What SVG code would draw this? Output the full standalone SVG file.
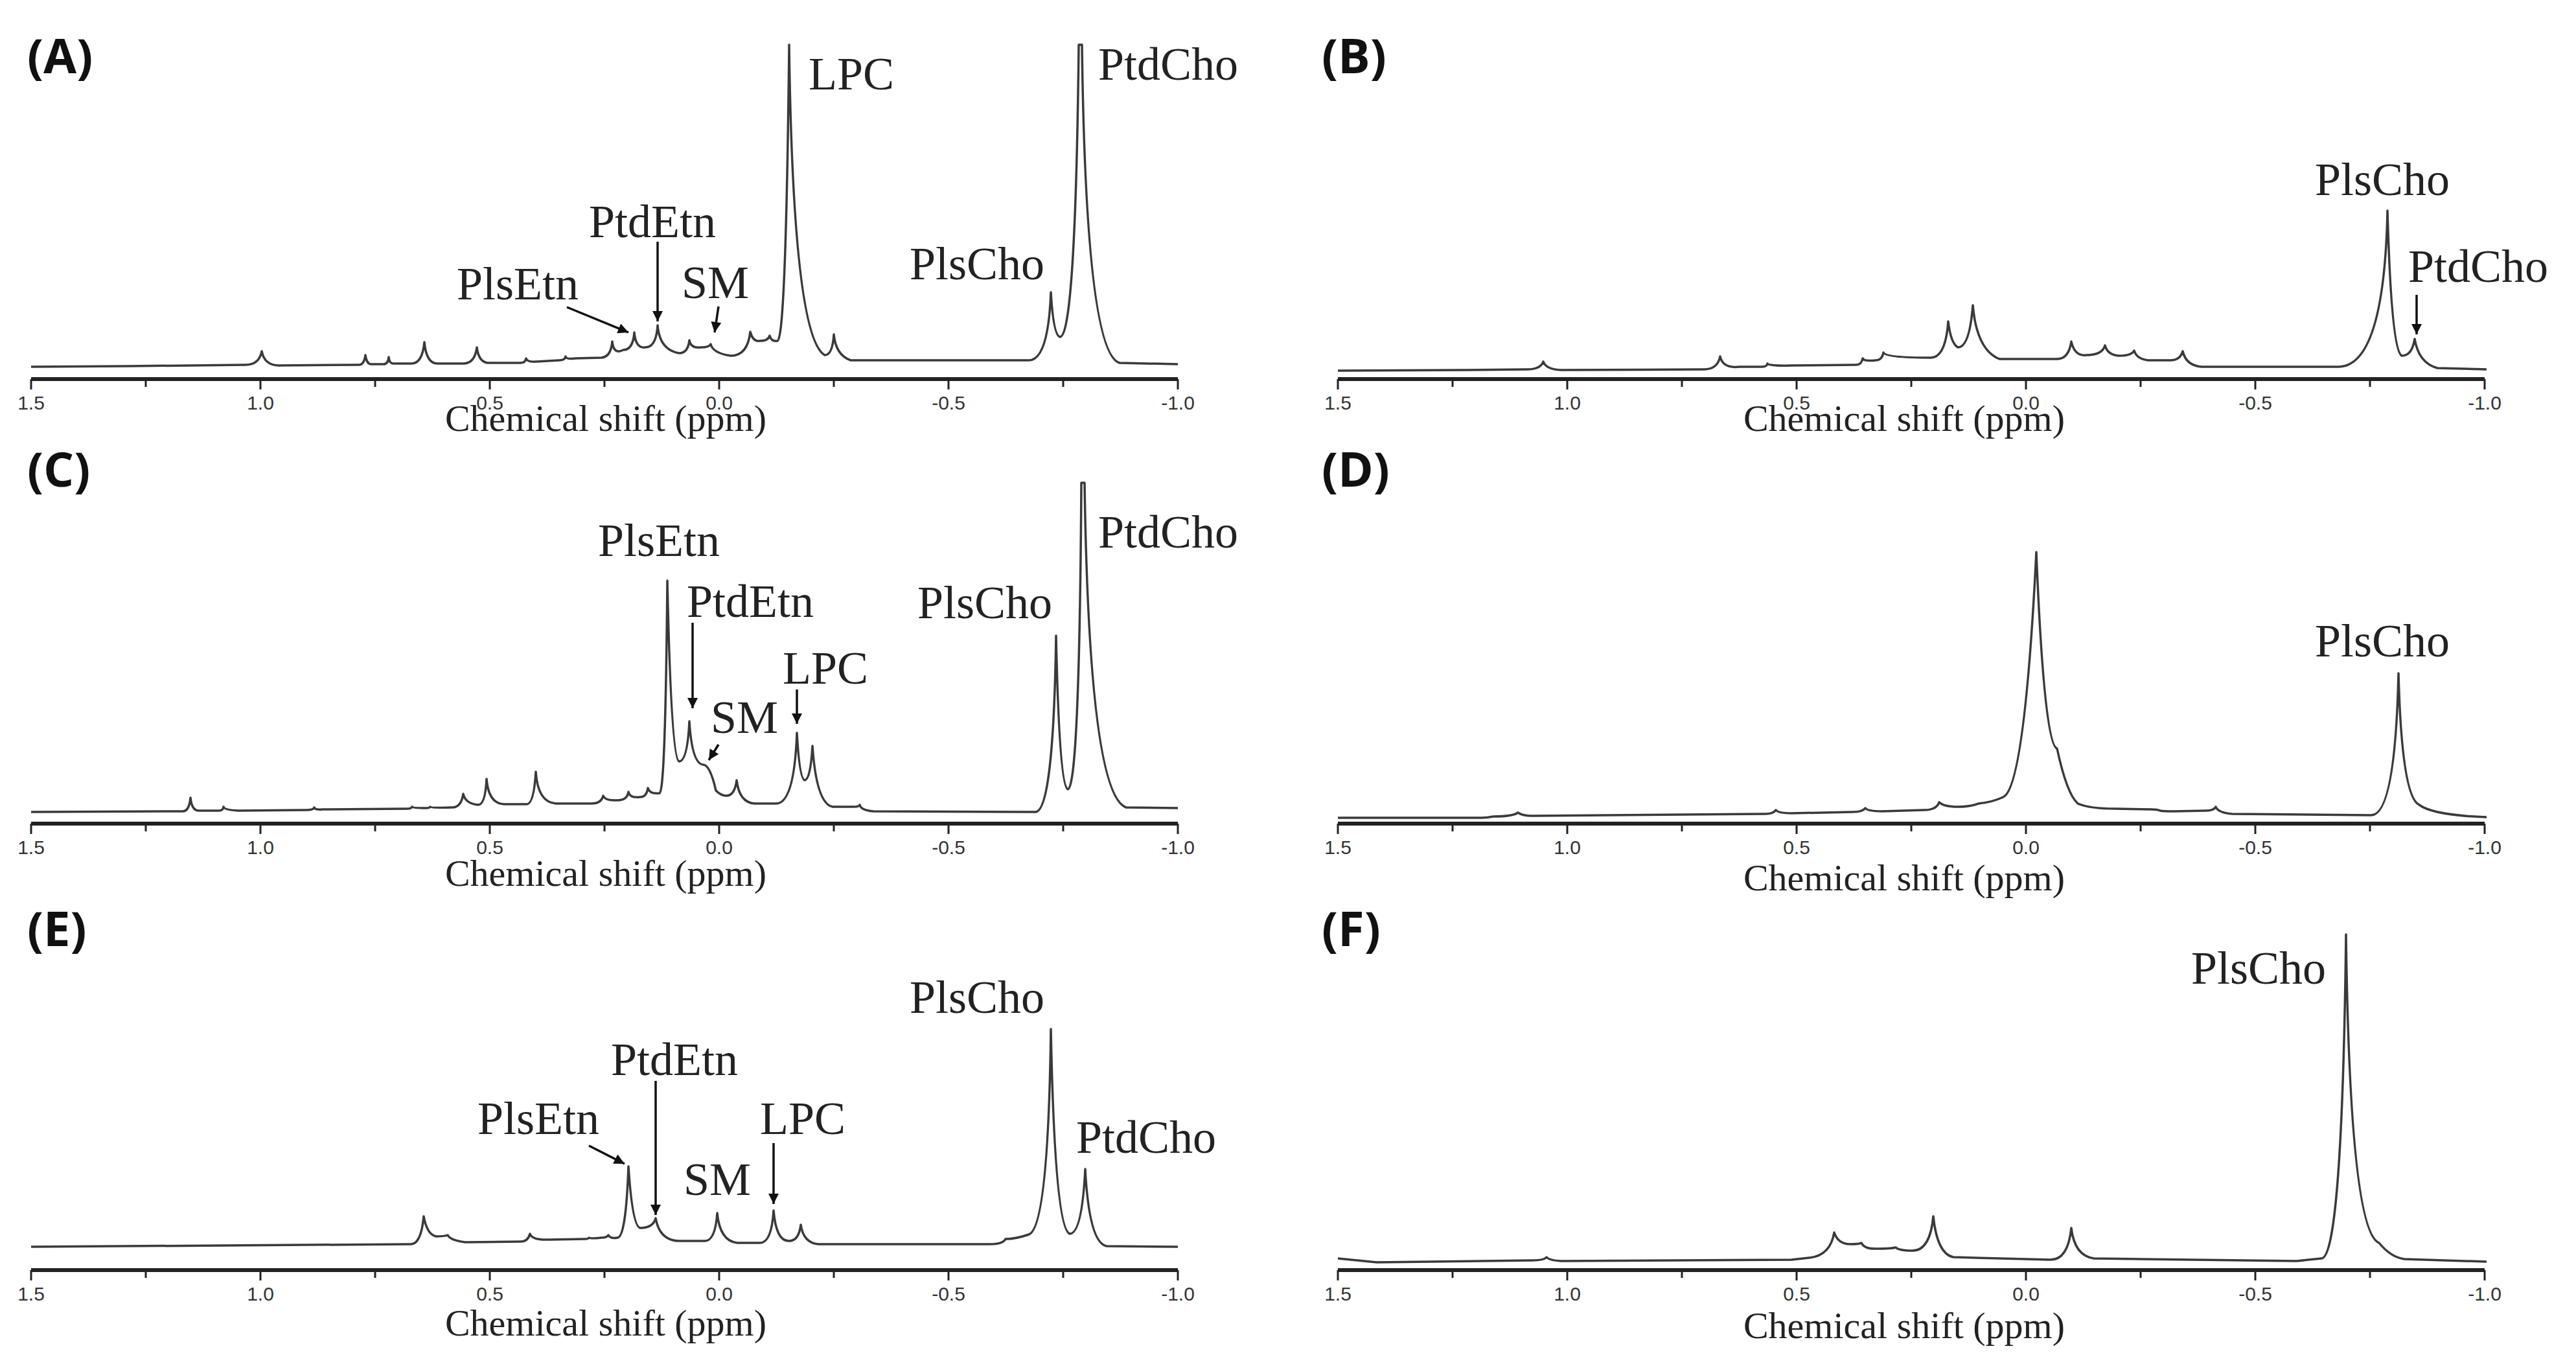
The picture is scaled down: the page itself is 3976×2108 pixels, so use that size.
<svg xmlns="http://www.w3.org/2000/svg" width="3976" height="2108" viewBox="0 0 3976 2108">
<style>
.sp{fill:none;stroke:#3a3a3a;stroke-width:3.5;stroke-linejoin:round}
.ax{stroke:#222;stroke-width:6}
.tk{stroke:#222;stroke-width:3}
.tl{font-family:"Liberation Sans",Arial,sans-serif;font-size:30px;fill:#333;text-anchor:middle}
.xl{font-family:"Liberation Serif","Times New Roman",serif;font-size:58px;fill:#222;text-anchor:middle}
.lb{font-family:"Liberation Serif","Times New Roman",serif;font-size:72px;fill:#222}
.pl{font-family:"Open Sans","DejaVu Sans",sans-serif;font-weight:bold;font-size:74px;fill:#111}
.ar{stroke:#111;stroke-width:3.5;fill:none;marker-end:url(#ah)}
</style>
<defs>
<marker id="ah" viewBox="0 0 10 10" refX="10" refY="5" markerWidth="20" markerHeight="16" markerUnits="userSpaceOnUse" orient="auto"><path d="M0,0 L10,5 L0,10 z" fill="#111"/></marker>
<g id="axis">
<line class="ax" x1="0" y1="0" x2="1770" y2="0"/>
<path class="tk" d="M0,0V16M354,0V16M708,0V16M1062,0V16M1416,0V16M1770,0V16M177,0V12M531,0V12M885,0V12M1239,0V12M1593,0V12"/>
<text class="tl" x="0" y="47">1.5</text><text class="tl" x="354" y="47">1.0</text><text class="tl" x="708" y="47">0.5</text><text class="tl" x="1062" y="47">0.0</text><text class="tl" x="1416" y="47">-0.5</text><text class="tl" x="1770" y="47">-1.0</text>
</g>
</defs>
<rect width="3976" height="2108" fill="#fff"/>

<g id="panelA" transform="translate(48,0)">
<text class="pl" x="-6" y="113">(A)</text>
<path class="sp" d="M0,566 L150,565 L331,563 Q352,563 356,542 Q360,563 381,564 L506,563 Q514,563 516,548 Q518,563 526,562 L544,562 Q551,562 552,551 Q553,562 560,561 L587,561 Q604,561 607,528 Q610,561 627,561 L667,561 Q685,561 688,536 Q691,561 708,560 L755,560 Q763,560 764,553 Q765,559 780,558 L815,556 Q824,556 825,550 Q826,555 840,553 L880,552 Q895,551 897,527 Q899,548 914,540 Q929,540 931,513 Q933,538 948,536 Q965,536 967,502 Q970,540 1000,545 Q1014,545 1016,525 Q1018,538 1034,536 Q1047,536 1049,531 Q1052,545 1080,549 Q1106,549 1110,512 Q1114,528 1125,526 Q1138,526 1140,518 Q1143,528 1152,526 Q1165,526 1170,69 Q1176,520 1225,548 Q1237,548 1239,516 Q1242,548 1265,556 L1540,556 Q1570,556 1574,451 Q1578,518 1588,520 Q1612,520 1617,69 L1622,69 Q1628,545 1680,560 L1770,562"/>
<use href="#axis" y="585"/>
<text class="xl" x="887" y="665">Chemical shift (ppm)</text>
<text class="lb" x="1200" y="138">LPC</text>
<text class="lb" x="1647" y="123">PtdCho</text>
<text class="lb" x="861" y="366">PtdEtn</text>
<text class="lb" x="657" y="462">PlsEtn</text>
<text class="lb" x="1004" y="460">SM</text>
<text class="lb" x="1356" y="431">PlsCho</text>
</g>

<g id="panelB" transform="translate(2065,0)">
<text class="pl" x="-25" y="113">(B)</text>
<path class="sp" d="M0,572 L200,571 L292,570 Q313,570 317,558 Q321,570 345,571 L565,570 Q586,570 590,550 Q594,569 620,566 L655,566 Q662,566 663,561 Q664,565 700,564 L800,563 Q808,563 810,553 Q812,558 830,556 Q840,556 842,544 Q845,552 915,552 Q938,552 942,496 Q946,530 957,536 Q975,536 980,471 Q986,540 1021,554 L1110,554 Q1128,554 1132,527 Q1137,550 1155,548 Q1180,548 1184,533 Q1188,548 1206,549 Q1225,549 1229,541 Q1233,554 1250,556 L1285,556 Q1300,556 1304,542 Q1309,564 1333,566 L1544,566 Q1615,566 1620,325 Q1626,540 1642,549 Q1658,549 1662,523 Q1668,560 1697,568 L1773,570"/>
<use href="#axis" y="585"/>
<text class="xl" x="874" y="665">Chemical shift (ppm)</text>
<text class="lb" x="1508" y="301">PlsCho</text>
<text class="lb" x="1652" y="435">PtdCho</text>
</g>

<g id="panelC" transform="translate(48,0)">
<text class="pl" x="-6" y="751">(C)</text>
<path class="sp" d="M0,1253 L234,1252 Q244,1252 246,1231 Q248,1252 260,1251 L290,1251 Q296,1251 297,1245 Q298,1250 320,1251 L425,1250 Q436,1250 437,1246 Q438,1250 450,1249 L580,1248 Q587,1248 588,1245 Q589,1247 610,1247 Q615,1247 616,1245 Q617,1247 650,1246 Q664,1246 667,1225 Q670,1240 690,1242 Q701,1242 703,1202 Q706,1240 730,1241 L765,1241 Q776,1241 779,1191 Q782,1238 810,1240 L865,1240 Q880,1240 883,1228 Q886,1236 905,1235 Q920,1235 922,1222 Q924,1232 940,1230 Q950,1230 952,1216 Q955,1226 970,1224 Q979,1224 982,896 Q988,1170 1000,1175 Q1013,1175 1016,1113 Q1020,1178 1037,1180 Q1048,1180 1057,1220 Q1065,1228 1073,1228 Q1086,1228 1089,1204 Q1093,1238 1116,1240 L1150,1240 Q1178,1240 1182,1131 Q1186,1202 1194,1204 Q1203,1204 1206,1151 Q1212,1240 1237,1245 L1270,1245 Q1278,1245 1279,1242 Q1280,1250 1300,1252 L1550,1253 Q1578,1253 1582,981 Q1587,1212 1600,1218 Q1618,1218 1621,745 L1626,745 Q1633,1225 1690,1246 L1770,1247"/>
<use href="#axis" y="1271"/>
<text class="xl" x="887" y="1367">Chemical shift (ppm)</text>
<text class="lb" x="875" y="858">PlsEtn</text>
<text class="lb" x="1012" y="952">PtdEtn</text>
<text class="lb" x="1049" y="1131">SM</text>
<text class="lb" x="1160" y="1055">LPC</text>
<text class="lb" x="1368" y="954">PlsCho</text>
<text class="lb" x="1647" y="845">PtdCho</text>
</g>

<g id="panelD" transform="translate(2065,0)">
<text class="pl" x="-25" y="751">(D)</text>
<path class="sp" d="M0,1262 L220,1262 Q230,1262 240,1260 Q270,1260 278,1254 Q285,1259 300,1259 L660,1256 Q672,1256 676,1250 Q680,1255 700,1255 L795,1253 Q810,1253 814,1247 Q818,1252 840,1252 L905,1250 Q924,1250 928,1238 Q935,1245 957,1245 Q975,1245 989,1240 Q1010,1238 1027,1230 Q1060,1215 1078,852 Q1090,1150 1110,1155 Q1125,1225 1142,1240 Q1160,1248 1200,1248 L1255,1249 Q1265,1249 1269,1251 Q1273,1252 1290,1252 L1340,1251 Q1352,1251 1355,1245 Q1358,1254 1380,1256 L1595,1258 Q1632,1258 1637,1039 Q1642,1230 1669,1242 Q1690,1258 1773,1261"/>
<use href="#axis" y="1271"/>
<text class="xl" x="874" y="1374">Chemical shift (ppm)</text>
<text class="lb" x="1508" y="1013">PlsCho</text>
</g>

<g id="panelE" transform="translate(48,0)">
<text class="pl" x="-6" y="1460">(E)</text>
<path class="sp" d="M0,1924 L300,1922 L586,1920 Q602,1920 606,1877 Q611,1905 625,1908 Q638,1908 643,1906 Q647,1914 670,1917 L755,1916 Q767,1916 770,1904 Q773,1914 800,1913 L855,1912 Q860,1912 861,1910 Q862,1912 880,1910 Q889,1910 891,1906 Q894,1912 905,1910 Q918,1910 922,1800 Q928,1892 940,1895 Q960,1895 964,1880 Q970,1914 1000,1915 L1040,1915 Q1056,1915 1059,1872 Q1063,1915 1090,1918 L1125,1918 Q1143,1918 1146,1868 Q1150,1916 1170,1915 Q1185,1915 1188,1890 Q1192,1918 1215,1920 L1480,1920 Q1500,1920 1504,1912 Q1520,1912 1540,1905 Q1570,1895 1574,1588 Q1580,1895 1603,1904 Q1622,1904 1627,1804 Q1633,1918 1660,1923 L1770,1924"/>
<use href="#axis" y="1960"/>
<text class="xl" x="887" y="2061">Chemical shift (ppm)</text>
<text class="lb" x="689" y="1750">PlsEtn</text>
<text class="lb" x="895" y="1659">PtdEtn</text>
<text class="lb" x="1007" y="1844">SM</text>
<text class="lb" x="1125" y="1750">LPC</text>
<text class="lb" x="1356" y="1563">PlsCho</text>
<text class="lb" x="1613" y="1779">PtdCho</text>
</g>

<g id="panelF" transform="translate(2065,0)">
<text class="pl" x="-25" y="1460">(F)</text>
<path class="sp" d="M0,1942 L60,1948 L300,1945 Q318,1945 322,1940 Q326,1945 345,1946 L700,1944 L727,1941 Q760,1938 766,1902 Q772,1920 791,1920 Q805,1920 808,1918 Q812,1927 829,1927 Q855,1927 861,1925 Q866,1930 887,1930 Q914,1930 919,1877 Q925,1935 950,1940 L1100,1944 Q1127,1944 1132,1895 Q1137,1938 1167,1942 L1480,1946 L1518,1942 Q1550,1942 1556,1442 Q1562,1900 1607,1918 Q1625,1940 1646,1943 L1773,1947"/>
<use href="#axis" y="1960"/>
<text class="xl" x="874" y="2065">Chemical shift (ppm)</text>
<text class="lb" x="1317" y="1518">PlsCho</text>
</g>

<g id="connectors">
<line class="ar" x1="875" y1="474" x2="970" y2="513"/>
<line class="ar" x1="1015" y1="373" x2="1015" y2="496"/>
<line class="ar" x1="1109" y1="473" x2="1103" y2="513"/>
<line class="ar" x1="1069" y1="961" x2="1069" y2="1093"/>
<line class="ar" x1="1109" y1="1149" x2="1094" y2="1173"/>
<line class="ar" x1="1230" y1="1064" x2="1230" y2="1117"/>
<line class="ar" x1="909" y1="1768" x2="964" y2="1796"/>
<line class="ar" x1="1012" y1="1668" x2="1012" y2="1875"/>
<line class="ar" x1="1194" y1="1764" x2="1194" y2="1858"/>
<line class="ar" x1="3730" y1="455" x2="3730" y2="516"/>
</g>
</svg>
